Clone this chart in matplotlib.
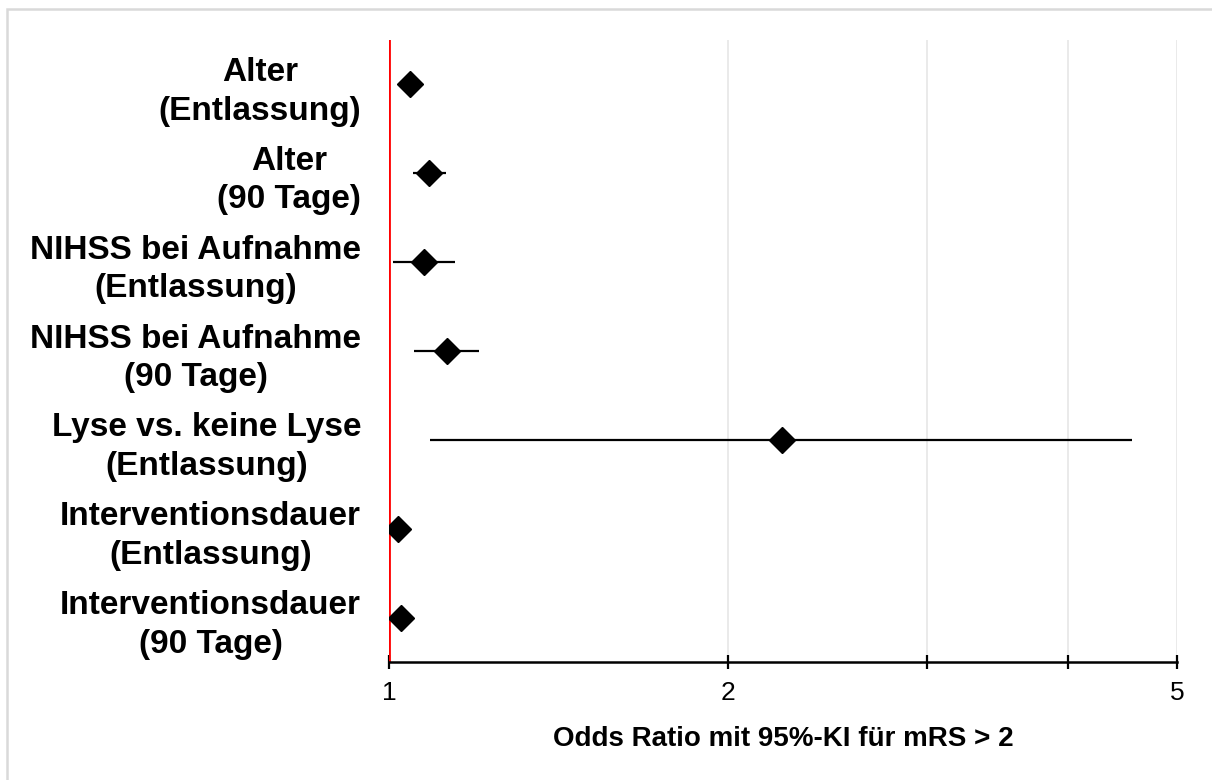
import numpy as np
import matplotlib
matplotlib.use("Agg")
import matplotlib.pyplot as plt
from matplotlib.ticker import FixedLocator, NullFormatter
from matplotlib.patches import Rectangle

plt.rcParams['font.family'] = ['Liberation Sans', 'DejaVu Sans']

# forest plot data
labels = ["Alter\n(Entlassung)", "Alter\n(90 Tage)",
          "NIHSS bei Aufnahme\n(Entlassung)", "NIHSS bei Aufnahme\n(90 Tage)",
          "Lyse vs. keine Lyse\n(Entlassung)",
          "Interventionsdauer\n(Entlassung)", "Interventionsdauer\n(90 Tage)"]
odds = [1.044, 1.085, 1.074, 1.126, 2.23, 1.018, 1.025]
ci_low = [1.030, 1.050, 1.008, 1.052, 1.087, 1.012, 1.018]
ci_high = [1.058, 1.123, 1.144, 1.201, 4.56, 1.024, 1.032]
major_ticks = [1, 2, 5]
minor_ticks = [3, 4]

fig = plt.figure(figsize=(12.12, 7.8), dpi=100)
ax = fig.add_axes([389/1212, 1-662/780, (1177-389)/1212, (662-40)/780])

# light grey frame, only top and left edges fall inside the picture
fig.patches.append(Rectangle((7/1212, -20/780), 1230/1212, (771+20)/780,
                             transform=fig.transFigure, fill=False,
                             edgecolor='#d9d9d9', linewidth=1.8))

ypos = np.arange(len(labels))
odds = np.array(odds)
err = [odds - np.array(ci_low), np.array(ci_high) - odds]
ax.errorbar(odds, ypos, xerr=err, fmt='D', color='black', ms=13.5,
            elinewidth=1.6, capsize=0, zorder=3)

ax.set_xscale('log')
ax.set_xlim(1, 5)
ax.set_ylim(len(labels) - 0.5, -0.5)

ax.xaxis.set_major_locator(FixedLocator(major_ticks))
ax.set_xticklabels([str(t) for t in major_ticks])
ax.xaxis.set_minor_locator(FixedLocator(minor_ticks))
ax.xaxis.set_minor_formatter(NullFormatter())
ax.tick_params(axis='x', which='both', direction='inout', length=9.5, width=1.6,
               labelsize=19, pad=9)
ax.grid(True, axis='x', which='both', color='#e6e6e6', linewidth=1.2, zorder=0)
ax.set_axisbelow(True)

ax.set_yticks(ypos)
ax.set_yticklabels(labels, fontsize=24, fontweight='bold', linespacing=1.32)
for t in ax.get_yticklabels():
    t.set_multialignment('center')
ax.tick_params(axis='y', length=0, pad=20)

ax.axvline(1, color='#ff0000', linewidth=2.0, zorder=2)
for s in ['top', 'right', 'left']:
    ax.spines[s].set_visible(False)
ax.spines['bottom'].set_linewidth(1.8)

ax.set_xlabel("Odds Ratio mit 95%-KI für mRS > 2", fontsize=20, fontweight='bold',
              labelpad=15)

fig.savefig("out.png", dpi=100)
